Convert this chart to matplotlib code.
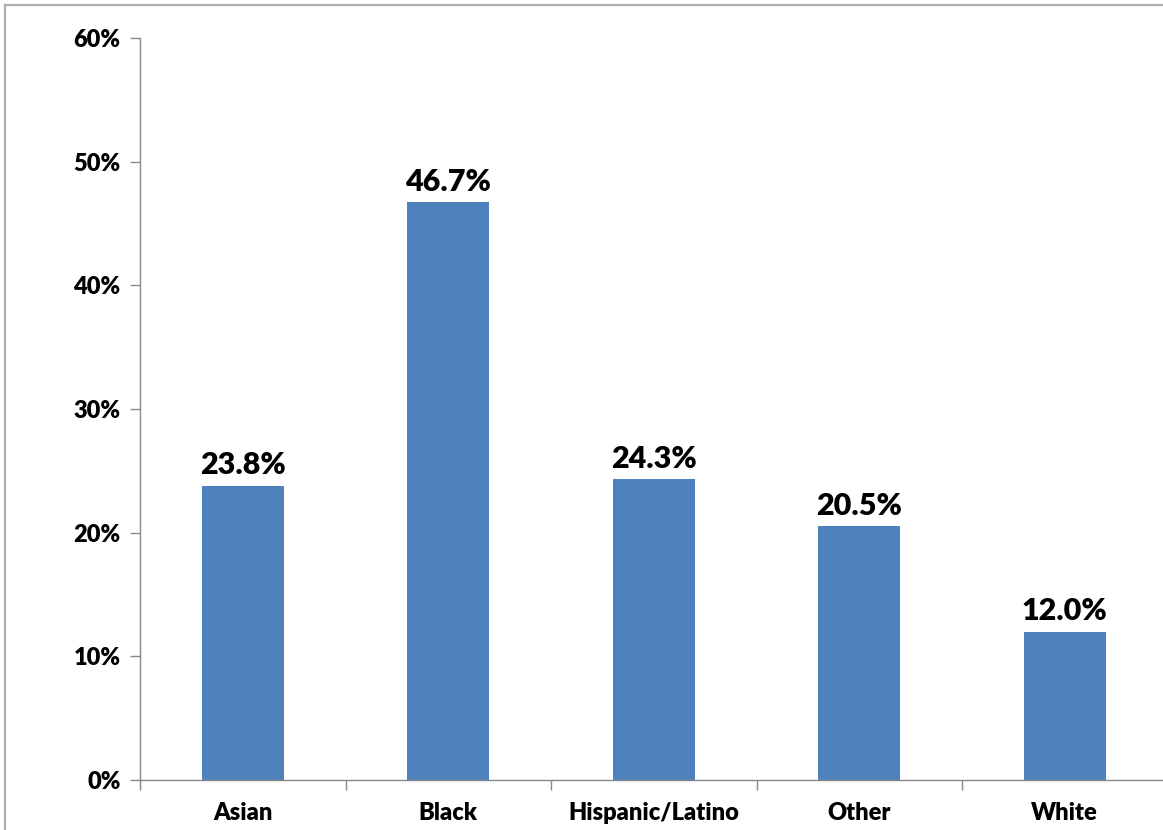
import matplotlib.pyplot as plt
from matplotlib.lines import Line2D
from matplotlib.ticker import FuncFormatter, FixedLocator

categories = ["Asian", "Black", "Hispanic/Latino", "Other", "White"]
values = [23.8, 46.7, 24.3, 20.5, 12.0]
yticks = [0, 10, 20, 30, 40, 50, 60]

plt.rcParams['font.family'] = ['Lato', 'DejaVu Sans']

fig = plt.figure(figsize=(11.63, 8.30), dpi=100)
W, H = 1163, 830
ax = fig.add_axes([140 / W, 1 - 780 / H, 1027.5 / W, (780 - 38) / H])

x = list(range(len(categories)))
ax.bar(x, values, width=0.40, color="#4F81BD", zorder=2)

for xi, v in zip(x, values):
    ax.text(xi, v + 0.5, f"{v:.1f}%", ha="center", va="bottom",
            fontsize=22, fontweight="heavy", color="black")

ax.set_xlim(-0.5, len(categories) - 0.5)
ax.set_ylim(0, 60)
ax.set_yticks(yticks)
ax.yaxis.set_major_formatter(FuncFormatter(lambda v, p: f"{int(v)}%"))

ax.set_xticks(x)
ax.set_xticklabels(categories)
ax.xaxis.set_minor_locator(FixedLocator([i + 0.5 for i in range(-1, len(categories))]))
ax.tick_params(axis="x", which="major", length=0, pad=16, labelsize=17)
ax.tick_params(axis="x", which="minor", length=7, color="#888888", width=1)
ax.tick_params(axis="y", length=7, color="#888888", width=1, labelsize=17, pad=7)
for lbl in ax.get_xticklabels() + ax.get_yticklabels():
    lbl.set_fontweight("heavy")

for s in ["top", "right"]:
    ax.spines[s].set_visible(False)
for s in ["left", "bottom"]:
    ax.spines[s].set_color("#888888")
    ax.spines[s].set_linewidth(1)

# outer frame (top and left edges visible)
fig.add_artist(Line2D([5 / W, 1], [1 - 5 / H, 1 - 5 / H], color="#b0b0b0", lw=1.6))
fig.add_artist(Line2D([5 / W, 5 / W], [0, 1 - 5 / H], color="#b0b0b0", lw=1.6))

fig.savefig("out.png", dpi=100)
